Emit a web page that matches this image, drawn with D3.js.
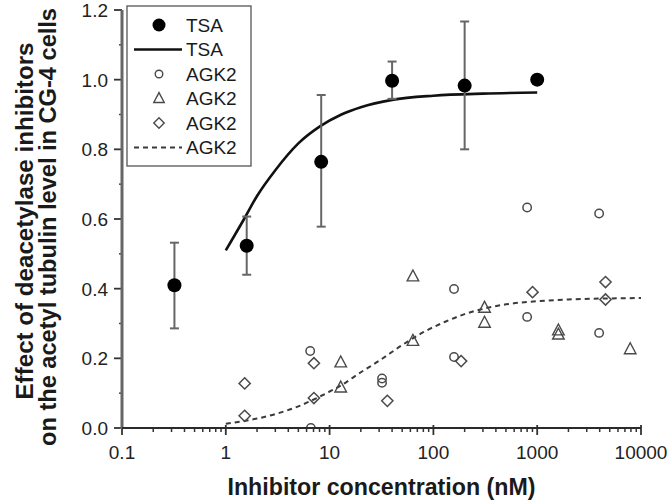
<!DOCTYPE html>
<html>
<head>
<meta charset="utf-8">
<script src="https://cdn.jsdelivr.net/npm/d3@7"></script>
<style>
  html, body { margin: 0; padding: 0; background: #fff; }
  svg { display: block; font-family: "Liberation Sans", Arial, sans-serif; }
</style>
</head>
<body>
<svg id="chart" width="670" height="502"></svg>
<script>
// ---- data ----
const xTickValues = [0.1, 1, 10, 100, 1000, 10000];
const xTickLabels = ["0.1", "1", "10", "100", "1000", "10000"];
const yTickValues = [0, 0.2, 0.4, 0.6, 0.8, 1.0, 1.2];
const yTickLabels = ["0.0", "0.2", "0.4", "0.6", "0.8", "1.0", "1.2"];

const tsaX    = [0.32, 1.59, 8.3, 40, 200, 1000];
const tsaY    = [0.41, 0.523, 0.764, 0.997, 0.983, 1.0];
const tsaLow  = [0.286, 0.44, 0.578, 0.945, 0.80, 1.0];
const tsaHigh = [0.532, 0.607, 0.956, 1.052, 1.167, 1.0];

const tsaFitX = [1, 1.5, 2, 3, 5, 8, 13, 20, 40, 100, 300, 1000];
const tsaFitY = [0.51, 0.60, 0.666, 0.74, 0.817, 0.865, 0.90, 0.921, 0.942, 0.954, 0.960, 0.963];

const agkFitX = [1, 1.5, 2, 3, 5, 8, 13, 20, 30, 50, 80, 130, 200, 300, 500, 1000, 2000, 5000, 10000];
const agkFitY = [0.012, 0.02, 0.027, 0.04, 0.062, 0.09, 0.123, 0.16, 0.193, 0.238, 0.275, 0.305, 0.327, 0.342, 0.355, 0.364, 0.369, 0.372, 0.373];

const agkCircleX = [6.5, 6.6, 32, 32, 158, 158, 800, 800, 3950, 3950];
const agkCircleY = [0.221, 0.0, 0.142, 0.130, 0.399, 0.204, 0.633, 0.319, 0.616, 0.273];

const agkTriangleX = [12.8, 12.8, 63.5, 63.5, 311, 311, 1600, 1600, 7870];
const agkTriangleY = [0.188, 0.116, 0.435, 0.25, 0.345, 0.302, 0.28, 0.268, 0.226];

const agkDiamondX = [1.52, 1.52, 7.06, 7.06, 36, 185, 902, 4550, 4550];
const agkDiamondY = [0.128, 0.035, 0.186, 0.086, 0.078, 0.192, 0.39, 0.419, 0.369];

const legendLabels = ["TSA", "TSA", "AGK2", "AGK2", "AGK2", "AGK2"];

// ---- layout ----
const svg = d3.select("#chart");
const pLeft = 122, pRight = 641, pTop = 10, pBottom = 428;
const x = d3.scaleLog().domain([0.1, 10000]).range([pLeft, pRight]);
const y = d3.scaleLinear().domain([0, 1.2]).range([pBottom, pTop]);

const symStroke = "#4a4a4a";
const triPath = s => `M0,${-s*0.62}L${s*0.55},${s*0.42}L${-s*0.55},${s*0.42}Z`;
const diaPath = r => `M0,${-r}L${r},0L0,${r}L${-r},0Z`;

svg.append("clipPath").attr("id", "plotclip")
  .append("rect").attr("x", pLeft - 20).attr("y", 0).attr("width", pRight - pLeft + 40).attr("height", pBottom);

// ---- axes ----
const gx = svg.append("g").attr("transform", `translate(0,${pBottom})`);
const minorX = [];
for (let e = -1; e < 4; e++) for (let m = 2; m <= 9; m++) minorX.push(m * Math.pow(10, e));
gx.selectAll("line.minor").data(minorX).join("line").attr("class", "minor")
  .attr("x1", d => x(d)).attr("x2", d => x(d)).attr("y1", 0).attr("y2", 4)
  .attr("stroke", "#333").attr("stroke-width", 1.5);
gx.selectAll("line.major").data(xTickValues).join("line").attr("class", "major")
  .attr("x1", d => x(d)).attr("x2", d => x(d)).attr("y1", -3).attr("y2", 7)
  .attr("stroke", "#333").attr("stroke-width", 1.8);
gx.selectAll("text").data(xTickValues).join("text")
  .attr("x", d => x(d)).attr("y", 31).attr("text-anchor", "middle")
  .attr("font-size", 19).attr("fill", "#222")
  .text((d, i) => xTickLabels[i]);

const gy = svg.append("g").attr("transform", `translate(${pLeft},0)`);
const minorY = [0.1, 0.3, 0.5, 0.7, 0.9, 1.1];
gy.selectAll("line.minor").data(minorY).join("line").attr("class", "minor")
  .attr("x1", -3).attr("x2", 0).attr("y1", d => y(d)).attr("y2", d => y(d))
  .attr("stroke", "#444").attr("stroke-width", 1.5);
gy.selectAll("line.major").data(yTickValues).join("line").attr("class", "major")
  .attr("x1", -8).attr("x2", 0).attr("y1", d => y(d)).attr("y2", d => y(d))
  .attr("stroke", "#333").attr("stroke-width", 1.8);
gy.selectAll("text").data(yTickValues).join("text")
  .attr("x", -14).attr("y", d => y(d)).attr("dy", "0.36em").attr("text-anchor", "end")
  .attr("font-size", 19).attr("fill", "#222")
  .text((d, i) => yTickLabels[i]);
gy.append("line").attr("x1", 0).attr("x2", 0).attr("y1", pTop).attr("y2", pBottom + 1)
  .attr("stroke", "#666").attr("stroke-width", 3);

// ---- axis titles ----
svg.append("text").attr("x", (pLeft + pRight) / 2).attr("y", 495)
  .attr("text-anchor", "middle").attr("font-size", 23).attr("font-weight", "bold").attr("fill", "#1a1a1a")
  .attr("textLength", 308).attr("lengthAdjust", "spacingAndGlyphs")
  .text("Inhibitor concentration (nM)");
const yt = svg.append("g").attr("transform", "rotate(-90)");
yt.append("text").attr("x", -221).attr("y", 33).attr("text-anchor", "middle")
  .attr("font-size", 23).attr("font-weight", "bold").attr("fill", "#1a1a1a")
  .attr("textLength", 357).attr("lengthAdjust", "spacingAndGlyphs")
  .text("Effect of deacetylase inhibitors");
yt.append("text").attr("x", -227).attr("y", 56).attr("text-anchor", "middle")
  .attr("font-size", 23).attr("font-weight", "bold").attr("fill", "#1a1a1a")
  .attr("textLength", 438).attr("lengthAdjust", "spacingAndGlyphs")
  .text("on the acetyl tubulin level in CG-4 cells");

// ---- plot ----
const plot = svg.append("g").attr("clip-path", "url(#plotclip)");

const line = d3.line().x(d => x(d[0])).y(d => y(d[1])).curve(d3.curveMonotoneX);
plot.append("path").datum(agkFitX.map((v, i) => [v, agkFitY[i]]))
  .attr("d", line).attr("fill", "none").attr("stroke", "#3a3a3a")
  .attr("stroke-width", 2).attr("stroke-dasharray", "5,4");
plot.append("path").datum(tsaFitX.map((v, i) => [v, tsaFitY[i]]))
  .attr("d", line).attr("fill", "none").attr("stroke", "#111").attr("stroke-width", 2.6);

// error bars
const eb = plot.append("g").attr("stroke", "#666").attr("stroke-width", 2);
tsaX.forEach((v, i) => {
  if (tsaHigh[i] === tsaLow[i]) return;
  eb.append("line").attr("x1", x(v)).attr("x2", x(v)).attr("y1", y(tsaLow[i])).attr("y2", y(tsaHigh[i]));
  eb.append("line").attr("x1", x(v) - 4.5).attr("x2", x(v) + 4.5).attr("y1", y(tsaLow[i])).attr("y2", y(tsaLow[i]));
  eb.append("line").attr("x1", x(v) - 4.5).attr("x2", x(v) + 4.5).attr("y1", y(tsaHigh[i])).attr("y2", y(tsaHigh[i]));
});

// AGK2 markers
plot.append("g").selectAll("circle").data(agkCircleX).join("circle")
  .attr("cx", d => x(d)).attr("cy", (d, i) => y(agkCircleY[i])).attr("r", 4.2)
  .attr("fill", "none").attr("stroke", symStroke).attr("stroke-width", 1.5);
plot.append("g").selectAll("path").data(agkTriangleX).join("path")
  .attr("transform", (d, i) => `translate(${x(d)},${y(agkTriangleY[i])})`)
  .attr("d", triPath(10.5)).attr("fill", "none").attr("stroke", symStroke).attr("stroke-width", 1.4);
plot.append("g").selectAll("path").data(agkDiamondX).join("path")
  .attr("transform", (d, i) => `translate(${x(d)},${y(agkDiamondY[i])})`)
  .attr("d", diaPath(5.6)).attr("fill", "none").attr("stroke", symStroke).attr("stroke-width", 1.5);

// TSA markers
plot.append("g").selectAll("circle").data(tsaX).join("circle")
  .attr("cx", d => x(d)).attr("cy", (d, i) => y(tsaY[i])).attr("r", 7)
  .attr("fill", "#000");

// x-axis line on top
svg.append("line").attr("x1", pLeft).attr("x2", pRight).attr("y1", pBottom).attr("y2", pBottom)
  .attr("stroke", "#2a2a2a").attr("stroke-width", 2.2);

// ---- legend ----
const lg = svg.append("g");
lg.append("rect").attr("x", 127).attr("y", 6).attr("width", 124).attr("height", 160)
  .attr("fill", "#fff").attr("stroke", "#555").attr("stroke-width", 1.3);
const rowY = [25, 49.5, 74, 98.5, 123, 147.5];
const symX = 159;
lg.append("circle").attr("cx", symX).attr("cy", rowY[0]).attr("r", 6.5).attr("fill", "#000");
lg.append("line").attr("x1", 134).attr("x2", 182).attr("y1", rowY[1]).attr("y2", rowY[1])
  .attr("stroke", "#111").attr("stroke-width", 2.4);
lg.append("circle").attr("cx", symX).attr("cy", rowY[2]).attr("r", 3.8)
  .attr("fill", "none").attr("stroke", symStroke).attr("stroke-width", 1.4);
lg.append("path").attr("transform", `translate(${symX},${rowY[3]})`).attr("d", triPath(9.5))
  .attr("fill", "none").attr("stroke", symStroke).attr("stroke-width", 1.4);
lg.append("path").attr("transform", `translate(${symX},${rowY[4]})`).attr("d", diaPath(5.2))
  .attr("fill", "none").attr("stroke", symStroke).attr("stroke-width", 1.4);
lg.append("line").attr("x1", 134).attr("x2", 182).attr("y1", rowY[5]).attr("y2", rowY[5])
  .attr("stroke", "#3a3a3a").attr("stroke-width", 2).attr("stroke-dasharray", "5,4");
lg.selectAll("text").data(legendLabels).join("text")
  .attr("x", 186).attr("y", (d, i) => rowY[i]).attr("dy", "0.36em")
  .attr("font-size", 19).attr("fill", "#1a1a1a").text(d => d);
</script>
</body>
</html>
